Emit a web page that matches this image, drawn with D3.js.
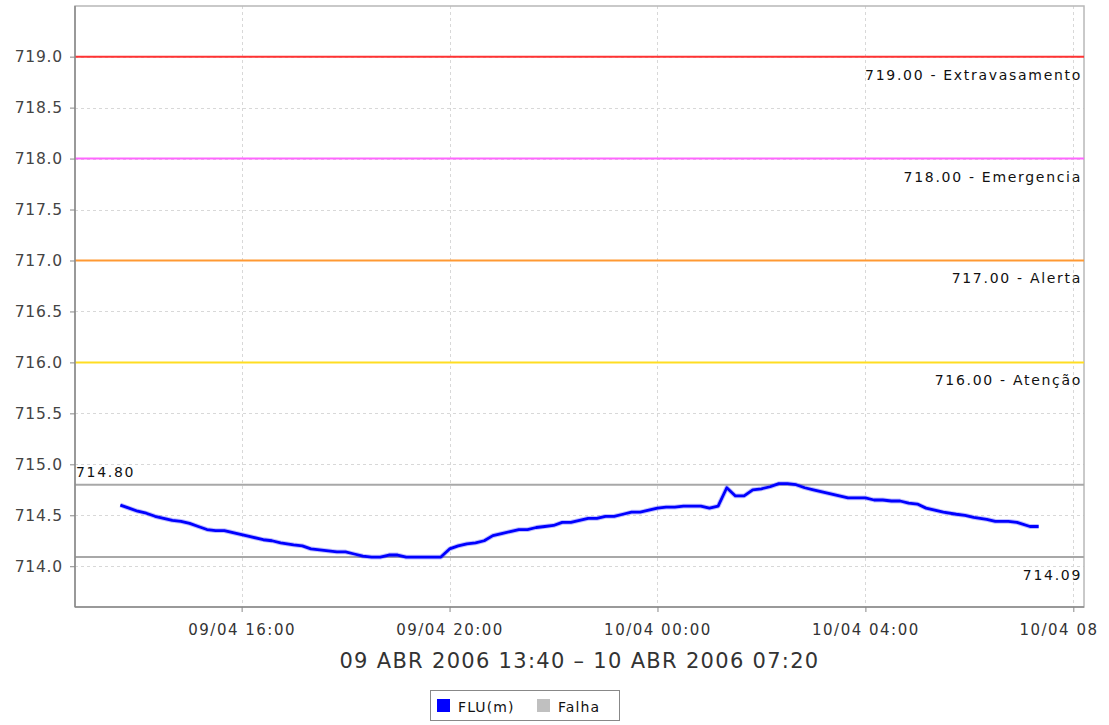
<!DOCTYPE html>
<html><head><meta charset="utf-8">
<script src="https://cdn.jsdelivr.net/npm/d3@7"></script>
<style>
body{margin:0;background:#fff;}
svg{display:block;font-family:"DejaVu Sans",sans-serif;}
</style></head>
<body><svg id="c" width="1109" height="725"></svg>
<script>
// minutes after 09/04/2006 13:40
const minutes = [0,10,20,30,40,50,60,70,80,90,100,110,120,130,140,150,165,175,185,200,210,220,230,240,250,260,270,280,290,300,310,320,330,340,350,360,370,380,390,400,410,420,430,440,450,460,470,480,490,500,510,520,530,540,550,560,570,580,590,600,610,620,630,640,650,660,670,680,690,700,710,720,730,740,750,760,770,780,790,800,810,820,830,840,850,860,870,880,890,900,910,920,930,940,950,965,975,985,1000,1010,1025,1035,1050,1060];
const levels  = [714.60,714.57,714.54,714.52,714.49,714.47,714.45,714.44,714.42,714.39,714.36,714.35,714.35,714.33,714.31,714.29,714.26,714.25,714.23,714.21,714.20,714.17,714.16,714.15,714.14,714.14,714.12,714.10,714.09,714.09,714.11,714.11,714.09,714.09,714.09,714.09,714.09,714.17,714.20,714.22,714.23,714.25,714.30,714.32,714.34,714.36,714.36,714.38,714.39,714.40,714.43,714.43,714.45,714.47,714.47,714.49,714.49,714.51,714.53,714.53,714.55,714.57,714.58,714.58,714.59,714.59,714.59,714.57,714.59,714.77,714.69,714.69,714.75,714.76,714.78,714.81,714.81,714.80,714.77,714.75,714.73,714.71,714.69,714.67,714.67,714.67,714.65,714.65,714.64,714.64,714.62,714.61,714.57,714.55,714.53,714.51,714.50,714.48,714.46,714.44,714.44,714.43,714.39,714.39];
const yTicks = [714.0,714.5,715.0,715.5,716.0,716.5,717.0,717.5,718.0,718.5,719.0];
const xTickLabels = ["09/04 16:00","09/04 20:00","10/04 00:00","10/04 04:00","10/04 08"];
const xTickTimes = ["2006-04-09T16:00","2006-04-09T20:00","2006-04-10T00:00","2006-04-10T04:00","2006-04-10T08:00"];
const thresholdValues = [719, 718, 717, 716];
const thresholdLabels = ["719.00 - Extravasamento","718.00 - Emergencia","717.00 - Alerta","716.00 - Atenção"];
const thresholdColors = ["#ff3333","#ff66ff","#ff9933","#ffdd22"];
const maxValue = 714.80, minValue = 714.09;
const axisTitle = "09 ABR 2006 13:40 – 10 ABR 2006 07:20";
const legendNames = ["FLU(m)","Falha"];
const legendColors = ["#0000ff","#c0c0c0"];

const start = new Date("2006-04-09T13:40:00");
const data = minutes.map((m,i)=>({t:new Date(start.getTime()+m*60000), v:levels[i]}));

const L=75, R=1084, T=6, B=607;
const x = d3.scaleTime()
  .domain([new Date("2006-04-09T12:47:40"), new Date("2006-04-10T08:12:20")])
  .range([L,R]);
const y = d3.scaleLinear().domain([713.60,719.497]).range([B,T]);

const svg = d3.select("#c");
const grid = svg.append("g");
const xt = xTickTimes.map(s=>new Date(s+":00"));
grid.selectAll(".gy").data(yTicks).join("line")
  .attr("x1",L).attr("x2",R).attr("y1",d=>Math.round(y(d))+0.5).attr("y2",d=>Math.round(y(d))+0.5)
  .attr("stroke","#d8d8d8").attr("stroke-dasharray","3,3");
grid.selectAll(".gx").data(xt).join("line")
  .attr("y1",T).attr("y2",B).attr("x1",d=>Math.round(x(d))+0.5).attr("x2",d=>Math.round(x(d))+0.5)
  .attr("stroke","#d8d8d8").attr("stroke-dasharray","3,3");

// plot outline
svg.append("rect").attr("x",L).attr("y",T).attr("width",R-L).attr("height",B-T)
  .attr("fill","none").attr("stroke","#b8b8b8").attr("stroke-width",1.5);

const lblFont = 14, lblSpace = "1.7px";
// threshold lines
thresholdValues.forEach((v,i)=>{
  svg.append("line").attr("x1",L).attr("x2",R).attr("y1",y(v)).attr("y2",y(v))
    .attr("stroke",thresholdColors[i]).attr("stroke-width",2);
  svg.append("text").attr("x",R-2).attr("y",y(v)+23).attr("text-anchor","end")
    .attr("font-size",lblFont).attr("letter-spacing",lblSpace).attr("fill","#111").text(thresholdLabels[i]);
});
// max / min lines
[maxValue,minValue].forEach(v=>{
  svg.append("line").attr("x1",L).attr("x2",R).attr("y1",y(v)).attr("y2",y(v))
    .attr("stroke","#a8a8a8").attr("stroke-width",2);
});
svg.append("text").attr("x",L+1).attr("y",y(maxValue)-8).attr("font-size",lblFont)
  .attr("letter-spacing",lblSpace).attr("fill","#111").text(maxValue.toFixed(2));
svg.append("text").attr("x",R-2).attr("y",y(minValue)+23).attr("text-anchor","end").attr("font-size",lblFont)
  .attr("letter-spacing",lblSpace).attr("fill","#111").text(minValue.toFixed(2));

// data line
const line = d3.line().x(d=>x(d.t)).y(d=>y(d.v));
svg.append("path").datum(data).attr("d",line).attr("fill","none")
  .attr("stroke","#0000ff").attr("stroke-opacity",0.25).attr("stroke-width",4.8).attr("stroke-linejoin","round");
svg.append("path").datum(data).attr("d",line).attr("fill","none")
  .attr("stroke","#0000ff").attr("stroke-width",2.8).attr("stroke-linejoin","round");

// axes
const yAxis = d3.axisLeft(y).tickValues(yTicks).tickFormat(d3.format(".1f")).tickSize(5).tickPadding(7);
const gy = svg.append("g").attr("transform",`translate(${L},0)`).call(yAxis);
gy.select(".domain").attr("stroke","#888").attr("stroke-width",1.5).attr("d",`M0,${T}V${B}`);
gy.selectAll(".tick line").attr("stroke","#888");
gy.selectAll("text").attr("font-size",15.5).attr("font-family","DejaVu Sans").attr("letter-spacing","0.8px").attr("fill","#444");

const xAxis = d3.axisBottom(x).tickValues(xt).tickFormat((d,i)=>xTickLabels[i]).tickSize(5).tickPadding(12);
const gx = svg.append("g").attr("transform",`translate(0,${B})`).call(xAxis);
gx.select(".domain").attr("stroke","#888").attr("stroke-width",1.5).attr("d",`M${L},0H${R}`);
gx.selectAll(".tick line").attr("stroke","#888");
gx.selectAll("text").attr("font-size",15).attr("font-family","DejaVu Sans").attr("letter-spacing","1.5px").attr("fill","#333");
// last label is pushed inside the picture, as in the reference
const lastTick = gx.selectAll(".tick").filter((d,i)=>i===xt.length-1);
lastTick.select("text").attr("text-anchor","end").attr("x",1098 - x(xt[xt.length-1]));

svg.append("text").attr("x",(L+R)/2).attr("y",668).attr("text-anchor","middle")
  .attr("font-size",21).attr("letter-spacing","1.3px").attr("fill","#333").text(axisTitle);

// legend
const lg = svg.append("g");
lg.append("rect").attr("x",430.5).attr("y",690.5).attr("width",189).attr("height",30)
  .attr("fill","#fff").attr("stroke","#888");
const lx = [437,537];
legendNames.forEach((n,i)=>{
  lg.append("rect").attr("x",lx[i]).attr("y",699).attr("width",13).attr("height",13).attr("fill",legendColors[i]);
  lg.append("text").attr("x",lx[i]+21).attr("y",711.5).attr("font-size",14)
    .attr("letter-spacing","1.1px").attr("fill","#111").text(n);
});
</script></body></html>
